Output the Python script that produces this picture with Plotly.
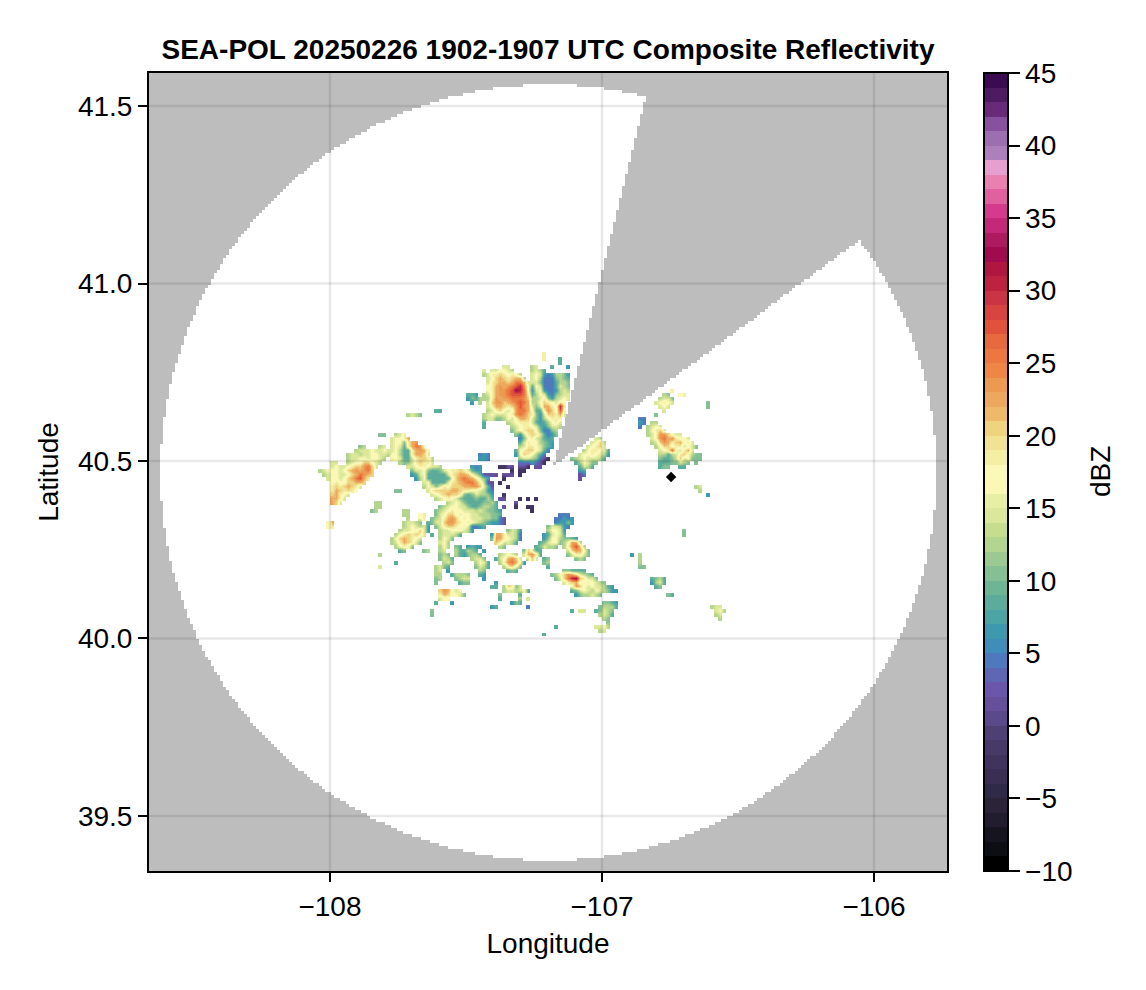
import numpy as np
import plotly.graph_objects as go

TITLE = "SEA-POL 20250226 1902-1907 UTC Composite Reflectivity"
X_TICKS = [-108, -107, -106]
Y_TICKS = [39.5, 40.0, 40.5, 41.0, 41.5]
CB_TICKS = [-10, -5, 0, 5, 10, 15, 20, 25, 30, 35, 40, 45]
X_RANGE = [-108.6653, -105.7317]
Y_RANGE = [39.3448, 41.5932]

# one colour for each 1 dBZ band, from -10 upward
BAND_COLORS = [
    "#000000", "#0d0d14", "#16141f", "#211c2e", "#2b2438", "#2f2a48", "#3a2f52", "#40345e", "#473a68", "#4e3f74",
    "#5a4a8c", "#66509c", "#6a57ac", "#5f66b3", "#4f79bd", "#3f8db8", "#3f99ae", "#4ca4a4", "#5bac9a", "#6eb595",
    "#85bf94", "#9cc991", "#b3d58f", "#c7dd8e", "#dbe89c", "#e7efa5", "#fbf7b5", "#fbf9b8", "#f4efa3", "#f2e296",
    "#f0d37f", "#eeb96a", "#eca85f", "#ec9a52", "#ee8745", "#ec7740", "#e66a3d", "#e0533a", "#d84440", "#cb3444",
    "#bd2340", "#b0163f", "#a00a4e", "#ad1a60", "#c42878", "#d43a8e", "#e060a0", "#e880b0", "#e5a0d0", "#ab80bd",
    "#9e6fb0", "#8a50a0", "#6a2a7a", "#4e1a60", "#3c0a50",
]

# radar coverage
RADAR_LON, RADAR_LAT = -107.197, 40.469
RANGE_LON, RANGE_LAT = 1.428, 1.093
SECTOR_LON, SECTOR_LAT = -107.18, 40.487
BLOCKED_AZ = [14.0, 53.6]
MARKER_LON, MARKER_LAT = [-106.746], [40.455]

# reflectivity: letters stand for dBZ
LEVELS = dict(a=-2.5, b=1.5, c=4.5, d=6.5, e=8.5, f=10.5, g=12.5, h=14.5, i=16.5, j=18.5,
              k=20.5, l=22, m=23.5, n=25.5, o=27.5, p=30.5, q=32.5)
GRID_LON0, GRID_DLON = -108.0368, 0.014706
GRID_LAT0, GRID_DLAT = 40.8127, 0.011268
GRID_ROWS, GRID_COLS = 71, 103
ROWS = {
    0: [(56, "j")],
    1: [(56, "j"), (60, "e")],
    2: [(60, "e")],
    3: [(46, "hh"), (53, "gh"), (58, "e"), (62, "d")],
    4: [(41, "h"), (43, "hhiihg"), (53, "ghge")],
    5: [(41, "ghjjkjijig"), (53, "hihdcdggfd")],
    6: [(42, "hiklkjkllg"), (53, "higcccfgfe")],
    7: [(42, "hjkllklnnlh"), (53, "hhfccceggf")],
    8: [(42, "ijlmlmnopmi"), (53, "eihccceh"), (61, "gf")],
    9: [(42, "ijlmmnoqpni"), (53, "dhidccdghg"), (88, "j")],
    10: [(37, "eed"), (41, "ghjlmmnooonj"), (53, "egihdcfghh"), (86, "gf"), (90, "ij")],
    11: [(37, "dfe"), (40, "g"), (41, "ggjmlmmnnnmk"), (53, "gghjfdghih"), (85, "ghhf")],
    12: [(38, "d"), (40, "g"), (42, "hkmmklmnonl"), (53, "ggikjihji"), (84, "hijih"), (97, "f")],
    13: [(42, "hjllkjkmoml"), (53, "hfhlljipj"), (85, "hih"), (97, "f")],
    14: [(29, "ee"), (42, "ghjkihimnnl"), (53, "ieejmkioi"), (86, "h")],
    15: [(22, "ghgf"), (41, "ghihhhijmnmk"), (53, "jfdhkkjlh"), (84, "f")],
    16: [(41, "ghhffgihjllk"), (53, "hfdgijjjg"), (80, "cc")],
    17: [(41, "e"), (47, "ghijjj"), (53, "hedegijh"), (80, "dc"), (83, "gg")],
    18: [(41, "e"), (48, "ghijj"), (53, "ihedfhhg"), (80, "c"), (82, "ghih")],
    19: [(48, "fhijk"), (53, "kifccfg"), (82, "gijkh")],
    20: [(15, "ff"), (19, "ghj"), (49, "fdhjkjhecdf"), (82, "ghjmmkihh")],
    21: [(18, "hiijl"), (50, "cfijhgede"), (69, "hg"), (83, "hjmnlmjiih")],
    22: [(18, "hiifjlm"), (50, "ehjiigfed"), (68, "hikg"), (83, "ghkmljklijh")],
    23: [(10, "fg"), (15, "gh"), (18, "hihejlnmi"), (50, "ghjjihfed"), (67, "hijkh"), (84, "gikkijjhihf")],
    24: [(9, "ghhhihhih"), (18, "higeejlmli"), (49, "eijkkihec"), (66, "gijjihe"), (85, "hijnih"), (91, "jlh")],
    25: [(7, "ghhghhiihhg"), (18, "iigeejllkh"), (40, "cdc"), (49, "dikjigec"), (65, "hiijihgd"), (85, "ggeghjkigff")],
    26: [(7, "ghhiihiihg"), (18, "jiheehjkkjg"), (40, "ddc"), (50, "ghhgfcba"), (63, "fghihhhge"), (85, "feefhkhifff")],
    27: [(3, "hh"), (7, "ghiikkihg"), (20, "gffhjkjjh"), (50, "cccdcba"), (64, "egihff"), (85, "eeeffhgf"), (94, "f")],
    28: [(3, "hihhijkkmnkh"), (22, "hhijjihhg"), (38, "dcd"), (45, "aabb"), (50, "bba"), (54, "bb"), (65, "ehge"),
         (85, "eff"), (90, "ee")],
    29: [(0, "ghiiihiklmlmnk"), (23, "fhhifeefhijjkjhedd"), (48, "a"), (50, "aa"), (65, "de")],
    30: [(1, "ghiihhiklnmlk"), (23, "dehieeeeehjkllkige"), (41, "bbbb"), (46, "bbb"), (50, "a"), (65, "bc")],
    31: [(2, "hiihiklnolj"), (24, "dgieeeeeeikmnmljhfd"), (46, "a"), (65, "b")],
    32: [(3, "ijiikkllk"), (26, "hieeeehjklmnnljgbb"), (45, "a")],
    33: [(3, "jkjklkjh"), (26, "gihfhjikkkllmmkheb"), (47, "a"), (94, "gh")],
    34: [(3, "jlkjkji"), (19, "ff"), (27, "hjkkkkllkjjiihgdc"), (95, "g")],
    35: [(3, "kljih"), (28, "hijklkkjfefhggfd"), (46, "a"), (97, "d")],
    36: [(3, "lljh"), (29, "ghijihfeeefeege"), (45, "bb"), (50, "a"), (52, "a"), (54, "a")],
    37: [(3, "lkh"), (14, "gg"), (32, "ghihfeeeeffge"), (49, "b")],
    38: [(14, "gg"), (30, "fghiihhfeefggfe"), (46, "b"), (49, "a"), (52, "aa")],
    39: [(13, "fg"), (21, "gg"), (29, "fghijiihhhghgffed"), (53, "a")],
    40: [(21, "gg"), (25, "ij"), (29, "fhikkijiihhgggffe"), (60, "ccc")],
    41: [(22, "g"), (25, "ij"), (28, "fghjlmkijihhhggffcb"), (59, "ccdcd")],
    42: [(2, "il"), (21, "ghhgf"), (27, "efhhkmmkjijihgfeddcb"), (59, "cddfd")],
    43: [(2, "ij"), (21, "ghihgh"), (27, "d"), (29, "fhjkkjijhccde"), (57, "fhhgdc")],
    44: [(20, "ghhiikh"), (27, "d"), (30, "ghhiiihgd"), (47, "fhgd"), (57, "giihd"), (91, "f")],
    45: [(19, "gijkjkjh"), (28, "e"), (30, "ghhhge"), (43, "dlljhhgc"), (56, "dehihe"), (91, "f")],
    46: [(18, "giklkjih"), (30, "gihf"), (43, "fmljihgc"), (56, "dfiigffed")],
    47: [(18, "ghjlkjhf"), (30, "hig"), (44, "kjhhge"), (55, "efhiifgimlg")],
    48: [(19, "gijif"), (30, "gig"), (34, "fe"), (37, "ded"), (40, "d"), (45, "gf"), (54, "efhggf"), (61, "gjmokg")],
    49: [(20, "ef"), (26, "fg"), (30, "gh"), (34, "ge"), (36, "egfe"), (41, "d"), (51, "fkhee"), (62, "hkmlif")],
    50: [(15, "g"), (30, "fgf"), (34, "ge"), (36, "dfgge"), (45, "ghihg"), (51, "hlmje"), (62, "fhjjhf"), (78, "d"),
         (80, "g")],
    51: [(30, "fhge"), (38, "ghhf"), (44, "ehilmkh"), (52, "hkh"), (56, "ef"), (64, "fgf"), (80, "g")],
    52: [(19, "e"), (31, "ghf"), (39, "gihe"), (45, "gjmnli"), (51, "d"), (56, "fg"), (80, "g")],
    53: [(15, "h"), (29, "ghfe"), (39, "fhge"), (46, "gjkif"), (57, "e"), (80, "ff")],
    54: [(29, "gh"), (32, "d"), (40, "gf"), (47, "efe"), (61, "ffeeee")],
    55: [(29, "gg"), (33, "egggf"), (40, "ed"), (58, "fgikmljhgfe")],
    56: [(29, "fg"), (34, "fghh"), (41, "d"), (59, "fhknpqkjhhf"), (83, "efge")],
    57: [(29, "f"), (35, "eff"), (44, "d"), (61, "hjkliijihgf"), (83, "dghe")],
    58: [(43, "ee"), (46, "gkjf"), (50, "h"), (63, "imkihihhged"), (84, "ef")],
    59: [(30, "kmli"), (34, "hi"), (46, "ghhg"), (50, "hi"), (52, "e"), (63, "efhihgihgfdd")],
    60: [(30, "jlki"), (34, "ihf"), (45, "f"), (50, "e"), (64, "dfg"), (67, "ghgf"), (87, "fe")],
    61: [(30, "hii"), (45, "e"), (50, "g"), (52, "h")],
    62: [(29, "e"), (33, "d"), (48, "df"), (50, "e"), (71, "ffed")],
    63: [(43, "de"), (52, "c"), (70, "fggge"), (98, "ghh")],
    64: [(28, "f"), (63, "e"), (65, "hh"), (69, "efhgf"), (99, "hig")],
    65: [(28, "f"), (70, "ghge"), (99, "gh")],
    66: [(71, "gf"), (100, "g")],
    67: [(72, "f")],
    68: [(59, "e"), (69, "hhig")],
    69: [(70, "gh")],
    70: [(56, "e")],
}


def covered(lon, lat):
    in_range = ((lon - RADAR_LON) / RANGE_LON) ** 2 + ((lat - RADAR_LAT) / RANGE_LAT) ** 2 <= 1
    az = np.degrees(np.arctan2((lon - SECTOR_LON) / RANGE_LON, (lat - SECTOR_LAT) / RANGE_LAT))
    blocked = (az > BLOCKED_AZ[0]) & (az < BLOCKED_AZ[1])
    return in_range & ~blocked


# coverage backdrop
cov_lon = np.linspace(X_RANGE[0], X_RANGE[1], 267)
cov_lat = np.linspace(Y_RANGE[0], Y_RANGE[1], 267)
cov_x, cov_y = np.meshgrid(cov_lon, cov_lat)
coverage = covered(cov_x, cov_y).astype(float)

# reflectivity grid
z = np.full((GRID_ROWS, GRID_COLS), np.nan)
for row, runs in ROWS.items():
    for start, letters in runs:
        for k, ch in enumerate(letters):
            z[row, start + k] = LEVELS[ch]
grid_lon = GRID_LON0 + np.arange(GRID_COLS) * GRID_DLON
grid_lat = GRID_LAT0 - (np.arange(GRID_ROWS) + 1) * GRID_DLAT
gx, gy = np.meshgrid(grid_lon + 0.5 * GRID_DLON, grid_lat + 0.5 * GRID_DLAT)
z[~covered(gx, gy)] = np.nan

n = len(BAND_COLORS)
colorscale = []
for i, c in enumerate(BAND_COLORS):
    colorscale.append([i / n, c])
    colorscale.append([(i + 1) / n, c])

FONT = "Liberation Sans"
FS = 28
fig = go.Figure()
fig.add_trace(go.Heatmap(x=cov_lon, y=cov_lat, z=coverage, zmin=0, zmax=1, showscale=False, hoverinfo="skip",
                         colorscale=[[0, "#bdbdbd"], [0.5, "#bdbdbd"], [0.5, "#ffffff"], [1, "#ffffff"]]))
fig.add_trace(go.Heatmap(
    x=grid_lon, y=grid_lat[::-1], z=z[::-1], zmin=-10, zmax=45, colorscale=colorscale, hoverongaps=False,
    zsmooth="best",
    colorbar=dict(x=(984 - 149) / 798, xanchor="left", xref="paper", y=0, yanchor="bottom", yref="paper", len=1,
                  lenmode="fraction", thickness=24, thicknessmode="pixels", xpad=0, ypad=0,
                  tickvals=CB_TICKS, ticks="outside", ticklen=11, tickwidth=2, tickcolor="black",
                  outlinewidth=2, outlinecolor="black", tickfont=dict(family=FONT, size=FS, color="black")),
))
fig.add_trace(go.Scatter(x=MARKER_LON, y=MARKER_LAT, mode="markers", showlegend=False, hoverinfo="skip",
                         marker=dict(symbol="diamond", size=8, color="black")))

GRID_LINE = dict(color="rgba(0,0,0,0.09)", width=2.5)
for v in X_TICKS:
    fig.add_shape(type="line", xref="x", yref="paper", x0=v, x1=v, y0=0, y1=1, line=GRID_LINE, layer="above")
for v in Y_TICKS:
    fig.add_shape(type="line", xref="paper", yref="y", x0=0, x1=1, y0=v, y1=v, line=GRID_LINE, layer="above")

AXIS = dict(showgrid=False, zeroline=False, showline=True, linecolor="black", linewidth=2, mirror=True,
            ticks="outside", ticklen=9, tickwidth=2, tickcolor="black",
            tickfont=dict(family=FONT, size=FS, color="black"), layer="above traces")
fig.update_xaxes(range=X_RANGE, tickvals=X_TICKS, title=dict(text="Longitude", standoff=13,
                 font=dict(family=FONT, size=FS, color="black")), **AXIS)
fig.update_yaxes(range=Y_RANGE, tickvals=Y_TICKS, tickformat=".1f", title=dict(text="Latitude", standoff=11,
                 font=dict(family=FONT, size=FS, color="black")), **AXIS)
fig.add_annotation(text="dBZ", xref="paper", yref="paper", x=(1100 - 149) / 798, y=0.5, textangle=-90,
                   showarrow=False, xanchor="center", yanchor="middle",
                   font=dict(family=FONT, size=FS, color="black"))
fig.update_layout(
    width=1130, height=974, margin=dict(l=141, r=191, t=65, b=111), paper_bgcolor="white", plot_bgcolor="white",
    showlegend=False, font=dict(family=FONT),
    title=dict(text=f"<b>{TITLE}</b>", x=(548 - 8) / 1130, xanchor="center", y=1 - 41 / 974, yanchor="middle",
               font=dict(family=FONT, size=FS, color="black")),
)
fig.write_html("out.html")
